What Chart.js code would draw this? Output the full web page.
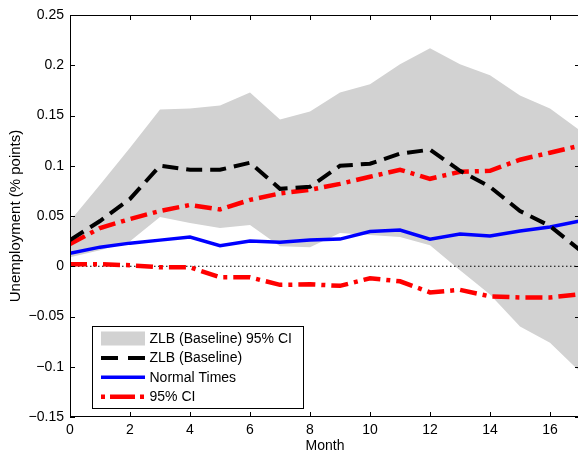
<!DOCTYPE html>
<html>
<head>
<meta charset="utf-8">
<script src="https://cdn.jsdelivr.net/npm/chart.js@4.4.0/dist/chart.umd.min.js"></script>
<style>
  html, body { margin: 0; padding: 0; background: #fff; overflow: hidden; }
  #wrap { width: 578px; height: 453px; overflow: hidden; }
</style>
</head>
<body>
<div id="wrap"><canvas id="chart" width="580" height="453"></canvas></div>
<script>
// --data-- //
const months = [0, 1, 2, 3, 4, 5, 6, 7, 8, 9, 10, 11, 12, 13, 14, 15, 16, 17];

const zlbUpper = [0.045, 0.081, 0.118, 0.156, 0.157, 0.160, 0.173, 0.146, 0.154, 0.173, 0.181, 0.201, 0.217, 0.201, 0.190, 0.170, 0.157, 0.135];
const zlbLower = [0.009, 0.016, 0.025, 0.049, 0.043, 0.038, 0.041, 0.020, 0.019, 0.033, 0.031, 0.029, 0.021, -0.004, -0.028, -0.060, -0.076, -0.105];
const zlbBaseline = [0.026, 0.045, 0.067, 0.100, 0.096, 0.096, 0.103, 0.077, 0.079, 0.100, 0.102, 0.112, 0.116, 0.095, 0.079, 0.055, 0.040, 0.016];
const normalTimes = [0.013, 0.019, 0.023, 0.026, 0.029, 0.0205, 0.025, 0.024, 0.026, 0.027, 0.0345, 0.036, 0.027, 0.032, 0.030, 0.035, 0.039, 0.045];
const ciUpper = [0.022, 0.038, 0.047, 0.055, 0.061, 0.0565, 0.066, 0.0725, 0.076, 0.082, 0.089, 0.096, 0.087, 0.094, 0.095, 0.106, 0.113, 0.120];
const ciLower = [0.002, 0.002, 0.001, -0.001, -0.001, -0.011, -0.011, -0.0185, -0.018, -0.0195, -0.012, -0.015, -0.026, -0.0235, -0.030, -0.031, -0.031, -0.028];
const zeroLine = [0, 0];
const zeroLineX = [0, 17];

const xTicks = [0, 2, 4, 6, 8, 10, 12, 14, 16];
const yTicks = [-0.15, -0.1, -0.05, 0, 0.05, 0.1, 0.15, 0.2, 0.25];
const legendLabels = ['ZLB (Baseline) 95% CI', 'ZLB (Baseline)', 'Normal Times', '95% CI'];

const FONT = '"Liberation Sans", Arial, Helvetica, sans-serif';
const GREY = 'rgb(210, 210, 210)';

const pts = (vals, xs = months) => vals.map((v, i) => ({ x: xs[i], y: v }));

const fmtTick = (v) => {
    const r = Math.round(v * 100) / 100;
    return r < 0 ? '\u2212' + String(-r) : String(r);
};

// box, inward ticks and legend, drawn like matlab does
const framePlugin = {
    id: 'frame',
    afterDraw(chart) {
        const { ctx, chartArea: a, scales: { x, y } } = chart;
        ctx.save();
        ctx.strokeStyle = '#000';
        ctx.lineWidth = 1;
        ctx.setLineDash([]);
        ctx.beginPath();
        xTicks.forEach(v => {
            const px = Math.round(x.getPixelForValue(v)) + 0.5;
            ctx.moveTo(px, a.bottom); ctx.lineTo(px, a.bottom - 5);
            ctx.moveTo(px, a.top); ctx.lineTo(px, a.top + 5);
        });
        yTicks.forEach(v => {
            const py = Math.round(y.getPixelForValue(v)) + 0.5;
            ctx.moveTo(a.left, py); ctx.lineTo(a.left + 5, py);
            ctx.moveTo(a.right, py); ctx.lineTo(a.right - 5, py);
        });
        ctx.stroke();
        ctx.strokeRect(a.left + 0.5, a.top + 0.5, a.right - a.left - 1, a.bottom - a.top - 1);

        // legend
        const lx = a.left + 22, ly = a.bottom - 91, lw = 211, lh = 82;
        ctx.fillStyle = '#fff';
        ctx.fillRect(lx, ly, lw, lh);
        ctx.strokeRect(lx + 0.5, ly + 0.5, lw, lh);
        const sx0 = lx + 9, sx1 = lx + 53;
        ctx.font = '14px ' + FONT;
        ctx.textBaseline = 'middle';
        legendLabels.forEach((txt, i) => {
            const cy = ly + 12.5 + i * 19.4;
            const ds = chart.data.datasets.find(d => d.label === txt);
            if (i === 0) {
                ctx.fillStyle = GREY;
                ctx.fillRect(sx0, cy - 7, sx1 - sx0, 14);
            } else {
                ctx.strokeStyle = ds.borderColor;
                ctx.lineWidth = ds.borderWidth;
                ctx.setLineDash(ds.legendDash);
                ctx.lineDashOffset = ds.legendDashOffset || 0;
                ctx.beginPath();
                ctx.moveTo(sx0, cy); ctx.lineTo(sx1, cy);
                ctx.stroke();
                ctx.setLineDash([]);
            }
            ctx.fillStyle = '#000';
            ctx.fillText(txt, lx + 57.5, cy + 0.5);
        });
        ctx.restore();
    }
};

const lineBase = { pointRadius: 0, fill: false, tension: 0, borderCapStyle: 'butt' };

new Chart(document.getElementById('chart'), {
    type: 'line',
    data: {
        datasets: [
            { ...lineBase, label: legendLabels[0], data: pts(zlbUpper), borderWidth: 0, borderColor: GREY,
              backgroundColor: GREY, fill: '+1', order: 20 },
            { ...lineBase, label: 'lower band', data: pts(zlbLower), borderWidth: 0, borderColor: GREY, order: 21 },
            { ...lineBase, label: 'zero', data: pts(zeroLine, zeroLineX), borderColor: '#000', borderWidth: 1,
              borderDash: [1.5, 2.5], order: 10 },
            { ...lineBase, label: legendLabels[1], data: pts(zlbBaseline), borderColor: '#000', borderWidth: 4,
              borderDash: [16, 8], legendDash: [17, 10], order: 1 },
            { ...lineBase, label: legendLabels[2], data: pts(normalTimes), borderColor: '#0000ff', borderWidth: 3.5,
              legendDash: [], order: 4 },
            { ...lineBase, label: legendLabels[3], data: pts(ciUpper), borderColor: '#ff0000', borderWidth: 4.5,
              borderDash: [17, 6, 4, 6], legendDash: [4, 5, 25, 5], order: 2 },
            { ...lineBase, label: 'ci lower', data: pts(ciLower), borderColor: '#ff0000', borderWidth: 4.5,
              borderDash: [17, 6, 4, 6], order: 3 }
        ]
    },
    options: {
        responsive: false,
        devicePixelRatio: 1,
        animation: false,
        layout: { padding: { top: 15, right: 0, left: 0, bottom: 0 } },
        plugins: {
            legend: { display: false },
            tooltip: { enabled: false }
        },
        scales: {
            x: {
                type: 'linear',
                min: 0,
                max: 17,
                afterFit: (s) => { s.height = 36; },
                afterBuildTicks: (s) => { s.ticks = xTicks.map(v => ({ value: v })); },
                grid: { display: false, drawTicks: false },
                border: { display: false },
                ticks: { color: '#000', font: { family: FONT, size: 14 }, padding: 5, maxRotation: 0,
                         callback: (v) => String(v) },
                title: { display: true, text: 'Month', color: '#000', font: { family: FONT, size: 14, lineHeight: 1 },
                         padding: { top: 0, bottom: 0 } }
            },
            y: {
                min: -0.15,
                max: 0.25,
                afterFit: (s) => { s.width = 70; },
                afterBuildTicks: (s) => { s.ticks = yTicks.map(v => ({ value: v })); },
                grid: { display: false, drawTicks: false },
                border: { display: false },
                ticks: { color: '#000', font: { family: FONT, size: 14 }, padding: 6, callback: fmtTick },
                title: { display: true, text: 'Unemployment (% points)', color: '#000',
                         font: { family: FONT, size: 15 }, padding: { top: 7, bottom: 0 } }
            }
        }
    },
    plugins: [framePlugin]
});
</script>
</body>
</html>
